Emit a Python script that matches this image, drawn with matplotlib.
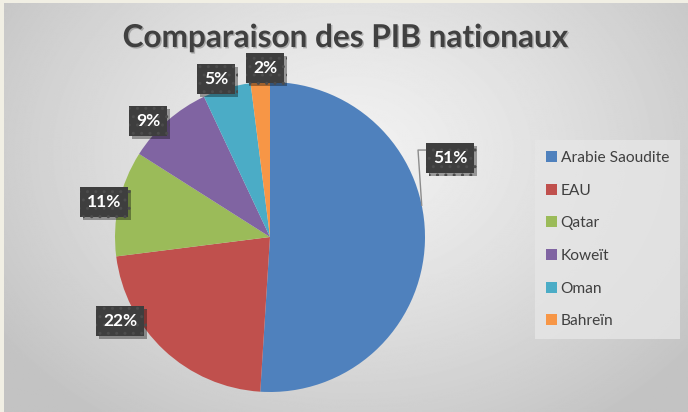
import numpy as np
import matplotlib.pyplot as plt
import matplotlib.patheffects as pe
from matplotlib.patches import Rectangle

# Part de chaque pays dans le PIB total (%)
pays = ['Arabie Saoudite', 'EAU', 'Qatar', 'Koweït', 'Oman', 'Bahreïn']
parts = [51, 22, 11, 9, 5, 2]
couleurs = ['#4F81BD', '#C0504D', '#9BBB59', '#8064A2', '#4BACC6', '#F79646']

# where each percentage box sits (pie units, radius = 1)
pos_etiquettes = [(1.161, 0.510), (-0.968, -0.542), (-1.071, 0.226),
                  (-0.787, 0.748), (-0.348, 1.019), (-0.032, 1.090)]

W, H = 688, 412
fig = plt.figure(figsize=(W / 100, H / 100), dpi=100)
fig.patch.set_facecolor('#F1EFE4')

# grey radial gradient behind the chart
bg = fig.add_axes([4 / W, 0, 1 - 4 / W, 1 - 3 / H])
yy, xx = np.mgrid[0:H, 0:W]
d = np.hypot((xx - 350) / 430, (yy - 150) / 330)
d = np.clip(d, 0, 1)
light, dark = 0.945, 0.765
img = light - (light - dark) * d ** 1.3
bg.imshow(img, cmap='gray', vmin=0, vmax=1, aspect='auto', interpolation='bilinear')
bg.set_axis_off()

# pie: centre (270, 237) px, radius 155 px
cx, cy, r = 270, 237, 155
ax = fig.add_axes([(cx - r) / W, (H - cy - r) / H, 2 * r / W, 2 * r / H])
wedges, _ = ax.pie(parts, colors=couleurs, startangle=90, counterclock=False,
                   radius=1, wedgeprops=dict(linewidth=0))
ax.set_xlim(-1, 1)
ax.set_ylim(-1, 1)
ax.set_aspect('auto')
ax.set_axis_off()

for v, (x, y) in zip(parts, pos_etiquettes):
    t = ax.text(x, y, f'{v}%', ha='center', va='center', color='white',
                fontsize=12.5, fontweight='bold', family='Lato', zorder=5,
                bbox=dict(boxstyle='square,pad=0.4', facecolor='#3E3E3E',
                          edgecolor='#4C4C4C', hatch='..', linewidth=0))
    t.get_bbox_patch().set_path_effects([
        pe.SimplePatchShadow(offset=(2, -2), shadow_rgbFace='black', alpha=0.35),
        pe.Normal()])

# leader line for the largest slice
a = np.deg2rad(11.8)
lx = [pos_etiquettes[0][0] - 0.148, 0.955, np.cos(a)]
ly = [0.561, 0.561, np.sin(a)]
ax.plot(lx, ly, color='#8C8C8C', linewidth=1, zorder=4, clip_on=False)

# title
fig.text(345 / W, 1 - 47 / H, 'Comparaison des PIB nationaux', ha='center',
         va='baseline', fontsize=22.7, fontweight='bold', family='Lato',
         color='#404040',
         path_effects=[pe.withSimplePatchShadow(offset=(1, -1), alpha=0.25)])

# legend
handles = [Rectangle((0, 0), 1, 1, facecolor=c, edgecolor='none') for c in couleurs]
leg = fig.legend(handles, pays, loc='upper left',
                 bbox_to_anchor=(535 / W, 1 - 140 / H, 141 / W, 0.0),
                 frameon=True, fancybox=False,
                 prop=dict(family='Lato', size=11.2),
                 handlelength=0.7, handleheight=0.7, handletextpad=0.25,
                 labelspacing=1.2, borderpad=0.7, borderaxespad=0)
leg.get_frame().set_facecolor('#E6E6E6')
leg.get_frame().set_edgecolor('none')
leg.get_frame().set_alpha(0.8)
for txt in leg.get_texts():
    txt.set_color('#404040')

fig.savefig('out.png', dpi=100, facecolor=fig.get_facecolor())
